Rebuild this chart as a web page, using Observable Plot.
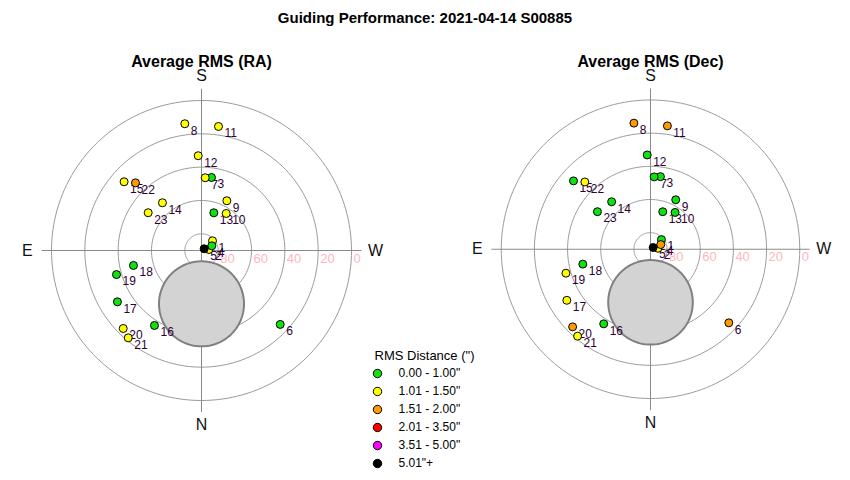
<!DOCTYPE html>
<html>
<head>
<meta charset="utf-8">
<script src="https://cdn.jsdelivr.net/npm/d3@7"></script>
<script src="https://cdn.jsdelivr.net/npm/@observablehq/plot@0.6"></script>
<style>
  html, body { margin: 0; padding: 0; background: #fff; }
  body { font-family: "Liberation Sans", Arial, sans-serif; }
  #wrap { position: relative; width: 850px; height: 480px; overflow: hidden; background: #fff; }
  #title { position: absolute; left: 0; top: 9px; width: 850px; text-align: center; z-index: 5;
           font-weight: bold; font-size: 15px; line-height: 18px; color: #000; }
  .panel { position: absolute; top: 0; z-index: 1; }
  #legend { position: absolute; left: 360px; top: 343px; z-index: 2; }
</style>
</head>
<body>
<div id="wrap">
  <div id="left" class="panel" style="left:0px"></div>
  <div id="right" class="panel" style="left:450px"></div>
  <div id="legend"></div>
  <div id="title">Guiding Performance: 2021-04-14 S00885</div>
</div>
<script>
// ---------- data ----------
const categories = ["0.00 - 1.00\"", "1.01 - 1.50\"", "1.51 - 2.00\"", "2.01 - 3.50\"", "3.51 - 5.00\"", "5.01\"+"];
const categoryColors = ["#11e011", "#ffff00", "#ff9900", "#ff0000", "#ff00ff", "#000000"];
const starIds  = [1, 2, 3, 4, 5, 6, 7, 8, 9, 10, 11, 12, 13, 14, 15, 16, 17, 18, 19, 20, 21, 22, 23];
const azimuth  = [228.6, 262.4, 187.8, 245.5, 236.8, 313.2, 182.9, 172.5, 207.0, 213.7, 187.8, 178.0, 198.1, 140.7, 131.6, 32.1, 58.6, 77.6, 74.2, 45.1, 40.0, 135.7, 125.3];
const altitude = [81.2, 85.5, 45.8, 83.2, 88.1, 25.2, 46.3, 13.3, 56.5, 63.3, 14.9, 33.1, 66.2, 53.0, 27.9, 36.9, 30.9, 48.2, 37.0, 23.7, 21.6, 33.3, 50.8];
// RMS class index (into categories) per star
const raClass  = [1, 1, 0, 0, 5, 0, 1, 1, 1, 1, 1, 1, 0, 1, 1, 0, 0, 0, 0, 1, 1, 2, 1];
const decClass = [0, 1, 0, 2, 5, 2, 0, 2, 0, 0, 2, 0, 0, 0, 0, 0, 1, 0, 1, 2, 1, 1, 0];
const ringAltitudes = [80, 60, 40, 20, 0];
const ringLabels = ["80", "60", "40", "20", "0"];
const compassNames = ["N", "E", "S", "W"];
const compassAzimuth = [0, 90, 180, 270];
const moonAzimuth = 0, moonAltitude = 58, moonRadius = 25.5;
const panelTitles = ["Average RMS (RA)", "Average RMS (Dec)"];

// ---------- helpers ----------
const rad = Math.PI / 180;
function project(az, alt) {
  const zd = 90 - alt;
  return [-zd * Math.sin(az * rad), -zd * Math.cos(az * rad)];
}
function circle(cx, cy, r, key) {
  return d3.range(0, 361, 2).map(a => ({key, x: cx + r * Math.cos(a * rad), y: cy + r * Math.sin(a * rad)}));
}
const rings = ringAltitudes.flatMap((alt, i) => circle(0, 0, 90 - alt, i));
const [mx, my] = project(moonAzimuth, moonAltitude);
const moon = circle(mx, my, moonRadius, "moon");
const compass = compassNames.map((n, i) => {
  const [x, y] = project(compassAzimuth[i], 90 - 104.5);
  return {n, x, y};
});
const ticks = ringAltitudes.map((alt, i) => ({x: 90 - alt, y: 0, label: ringLabels[i]}));
const axisLines = [
  {x1: -96, y1: 0, x2: 96, y2: 0},
  {x1: 0, y1: -97, x2: 0, y2: 97}
];

function panel(title, classes) {
  const stars = starIds.map((id, i) => {
    const [x, y] = project(azimuth[i], altitude[i]);
    return {id, x, y, cat: categories[classes[i]]};
  });
  return Plot.plot({
    width: 402, height: 480,
    margin: 0,
    x: {domain: [-120.6, 120.6], axis: null},
    y: {domain: [-138, 150], axis: null},
    color: {domain: categories, range: categoryColors},
    style: {fontFamily: "Liberation Sans, Arial, sans-serif", background: "transparent"},
    marks: [
      Plot.line(rings, {x: "x", y: "y", z: "key", stroke: "#9a9a9a", strokeWidth: 1}),
      Plot.link(axisLines, {x1: "x1", y1: "y1", x2: "x2", y2: "y2", stroke: "#8a8a8a", strokeWidth: 1}),
      Plot.line(moon, {x: "x", y: "y", fill: "#d3d3d3", stroke: "#808080", strokeWidth: 2}),
      Plot.text(ticks, {x: "x", y: "y", text: "label", textAnchor: "start", dx: 2, dy: 8, fill: "#ffb6c1", fontSize: 13}),
      Plot.text(stars, {x: "x", y: "y", text: "id", textAnchor: "start", dx: 6, dy: 7, fill: "#2e0033", fontSize: 12}),
      Plot.dot(stars, {x: "x", y: "y", fill: "cat", stroke: "black", strokeWidth: 1, r: 4}),
      Plot.text(compass, {x: "x", y: "y", text: "n", fontSize: 16, fill: "#111"}),
      Plot.text([title], {text: d => d, frameAnchor: "top", dy: 55, fontSize: 16, fontWeight: "bold", fill: "#000"})
    ]
  });
}

document.getElementById("left").append(panel(panelTitles[0], raClass));
document.getElementById("right").append(panel(panelTitles[1], decClass));

const legend = Plot.plot({
  width: 130, height: 132,
  margin: 0,
  x: {axis: null, domain: [0, 1]},
  y: {type: "point", domain: categories, range: [30, 120], padding: 0, axis: null},
  color: {domain: categories, range: categoryColors},
  style: {fontFamily: "Liberation Sans, Arial, sans-serif", background: "transparent"},
  marks: [
    Plot.text(["RMS Distance (\")"], {text: d => d, frameAnchor: "top-left", dx: 14, dy: 12, lineAnchor: "middle", textAnchor: "start", fontSize: 13, fill: "#000"}),
    Plot.dot(categories, {y: d => d, frameAnchor: "left", dx: 17, fill: d => d, stroke: "black", strokeWidth: 1, r: 4.2}),
    Plot.text(categories, {y: d => d, text: d => d, frameAnchor: "left", dx: 38, textAnchor: "start", fontSize: 12, fill: "#000"})
  ]
});
document.getElementById("legend").append(legend);
</script>
</body>
</html>
